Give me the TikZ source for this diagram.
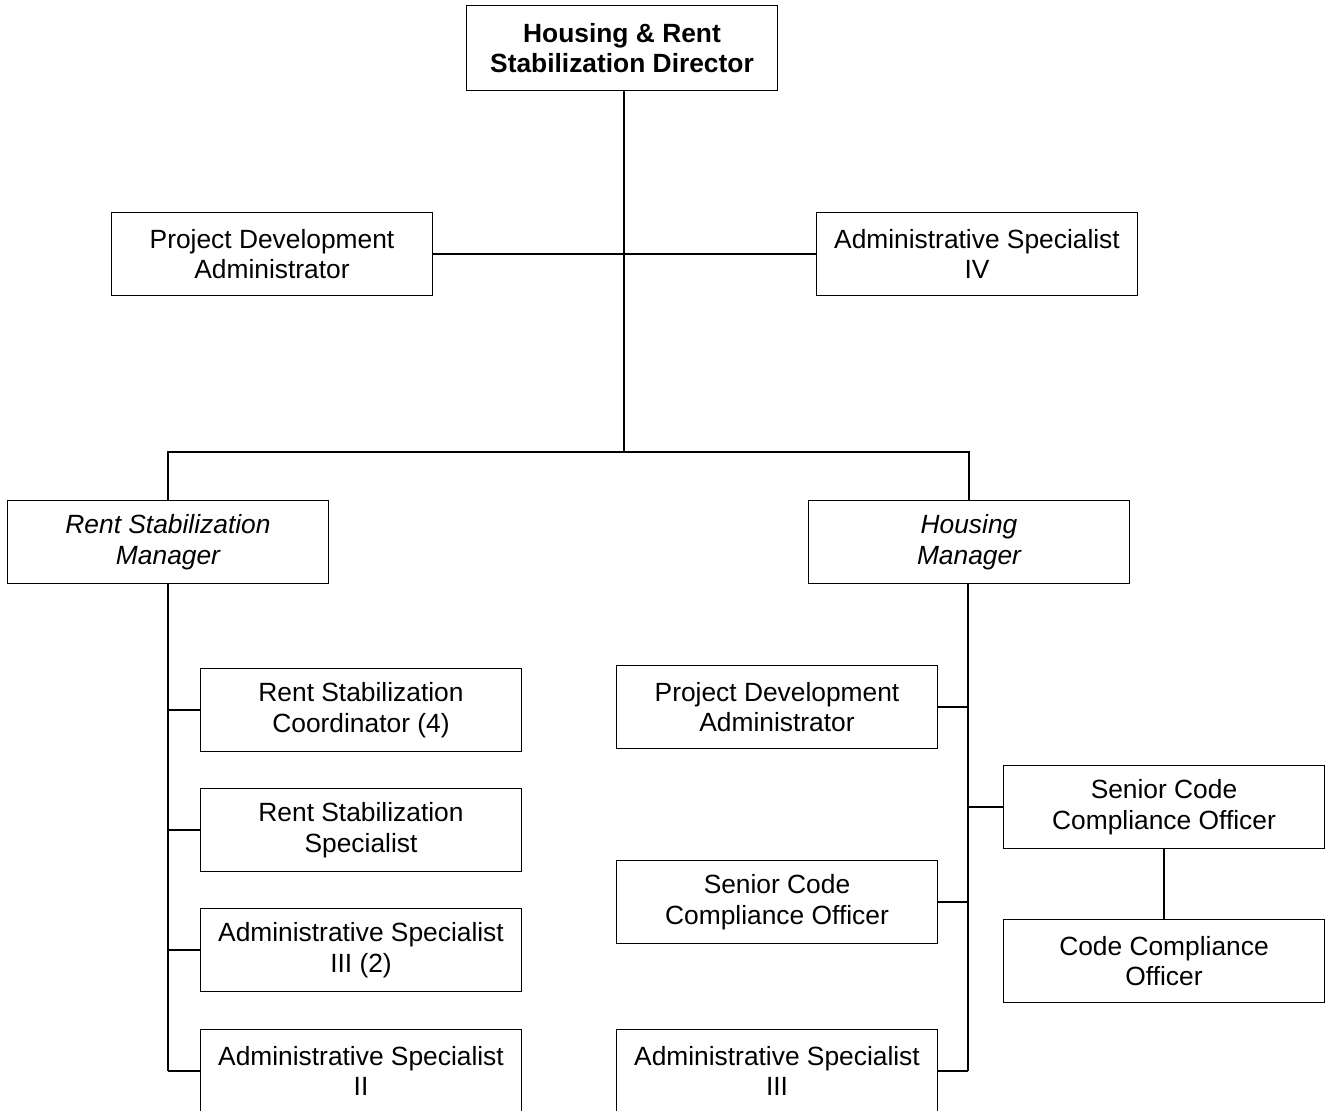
\documentclass[tikz,border=0pt]{standalone}
\usepackage{fontspec}
\setmainfont{Liberation Sans}
\usetikzlibrary{positioning}

\begin{document}
\begin{tikzpicture}[x=0.02cm, y=-0.02cm, line width=1pt,
    post/.style={draw, rectangle, align=center, minimum width=6.42cm, minimum height=1.66cm,
        inner sep=2pt, font=\fontsize{15pt}{17.5pt}\selectfont},
    postit/.style={post, font=\fontsize{15pt}{17.5pt}\selectfont\itshape}]
    \clip (0,0) rectangle (1326,1110);
    \fill[white] (0,0) rectangle (1326,1110);

    % Director and staff
    \node [post, minimum width=6.22cm, minimum height=1.7cm, font=\fontsize{15pt}{17.5pt}\selectfont\bfseries] (dir) at (622,48) {Housing \& Rent\\Stabilization Director};
    \node [post] (pda) at (272,254) {Project Development\\Administrator};
    \node [post] (as4) at (977,254) {Administrative Specialist\\IV};

    % Managers
    \node [postit] (rsm) at (168,542) {Rent Stabilization\\Manager};
    \node [postit] (hm) at (969,542) {Housing\\Manager};

    % Rent stabilization side
    \node [post] (rsc) at (361,710) {Rent Stabilization\\Coordinator (4)};
    \node [post] (rss) at (361,830) {Rent Stabilization\\Specialist};
    \node [post] (as3a) at (361,950) {Administrative Specialist\\III (2)};
    \node [post] (as2) at (361,1071) {Administrative Specialist\\II};

    % Housing side
    \node [post] (pdb) at (777,707) {Project Development\\Administrator};
    \node [post] (scl) at (777,902) {Senior Code\\Compliance Officer};
    \node [post] (as3b) at (777,1071) {Administrative Specialist\\III};
    \node [post] (scr) at (1164,807) {Senior Code\\Compliance Officer};
    \node [post] (cco) at (1164,961) {Code Compliance\\Officer};

    % Lines
    \coordinate (trunk) at (624,452);
    \draw (dir.south -| trunk) -- (trunk);
    \draw (pda.east) -- (as4.west);
    \draw (rsm.north) |- (trunk) -| (hm.north);

    \coordinate (rsend) at (168,1071);
    \draw (rsm.south) -- (rsend);
    \foreach \n in {rsc,rss,as3a,as2}
        \draw (\n.west) -- (\n.west -| rsm.south);

    \coordinate (hend) at (968,1071);
    \draw (hm.south -| hend) -- (hend);
    \foreach \n in {pdb,scl,as3b}
        \draw (\n.east) -- (\n.east -| hend);
    \draw (scr.west) -- (scr.west -| hend);
    \draw (scr) -- (cco);
\end{tikzpicture}
\end{document}
